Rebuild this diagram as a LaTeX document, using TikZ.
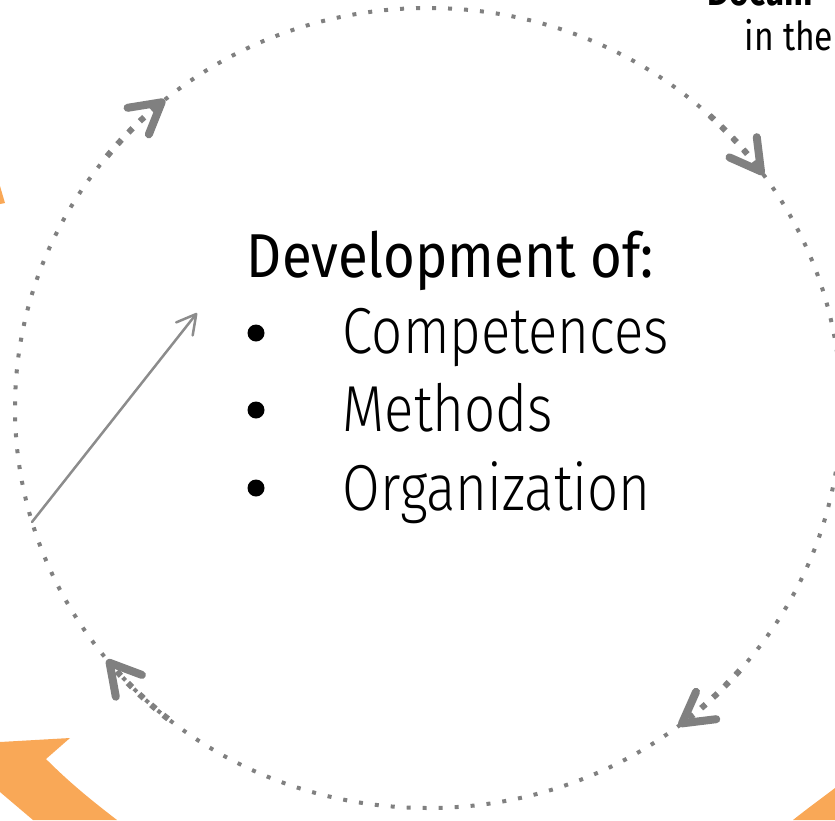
\documentclass[tikz,border=0pt]{standalone}
\usepackage{fontspec}
\setmainfont[FakeStretch=0.84]{Fira Sans}
\newfontfamily\thinfont[FakeStretch=0.84]{Fira Sans Light}
\newfontfamily\headfont[FakeStretch=0.88]{Fira Sans}
\usetikzlibrary{arrows.meta}

\definecolor{dotgray}{RGB}{128,128,128}
\definecolor{arrgray}{RGB}{140,140,140}
\definecolor{orng}{RGB}{249,168,87}

\tikzset{
  circdots/.style={dotgray, line width=4pt, dash pattern=on 4pt off 12pt},
  arrowarc/.style={dotgray, line width=6pt, dash pattern=on 6pt off 10pt,
    -{Straight Barb[length=30pt,width=34pt,line width=8pt,round]}},
  pointer/.style={arrgray, line width=2.5pt, line cap=round,
    -{Straight Barb[length=19pt,width=21pt,round]}},
  heading/.style={anchor=base west, inner sep=0.75pt, font=\headfont\fontsize{62}{70}\selectfont},
  itemtext/.style={anchor=base west, inner sep=0.75pt, font=\thinfont\fontsize{65}{72}\selectfont},
  listdot/.style={circle, fill=black, inner sep=0pt, minimum size=17pt}
}

\begin{document}
\begin{tikzpicture}[x=1pt,y=1pt,yscale=-1,xscale=1]
		% Set diagram from (0,0) to (835,820)
		\useasboundingbox (0,0) rectangle (835,820);
		\clip (0,0) rectangle (835,820);

		% Draw the orange pieces of the outer cycle
		\fill[orng] (0,742) -- (70,738) -- (46,759) .. controls (72,785) and (95,803) .. (117,820) -- (33,820) -- (0,792) -- cycle;
		\fill[orng] (0,186) -- (5,203) -- (0,204) -- cycle;
		\fill[orng] (793,820) .. controls (808,808) and (822,798) .. (835,788) -- (835,820) -- cycle;

		% Draw the dotted cycle
		\coordinate (hub) at (428,408);
		\draw[circdots] (hub) ellipse [x radius=413, y radius=400];

		% Draw the four arrows on the cycle (clockwise)
		\draw[arrowarc] ([shift={(-141:413 and 400)}]hub) arc[start angle=-141, end angle=-129.6, x radius=413, y radius=400];
		\draw[arrowarc] ([shift={(-47:413 and 400)}]hub) arc[start angle=-47, end angle=-35.7, x radius=413, y radius=400];
		\draw[arrowarc] ([shift={(41:413 and 400)}]hub) arc[start angle=41, end angle=52.6, x radius=413, y radius=400];
		\draw[arrowarc] ([shift={(129:413 and 400)}]hub) arc[start angle=129, end angle=141, x radius=413, y radius=400];

		% The straight grey arrow from the cycle to the text
		\coordinate (foot) at (32,522);
		\coordinate (head) at (197,313);
		\draw[pointer] (foot) -- (head);

		% The heading and the list
		\node[heading] (devel) at (246,277) {Development of:};
		\node[listdot] (b1) at (256,333) {};
		\node[listdot] (b2) at (256,410) {};
		\node[listdot] (b3) at (256,488) {};
		\node[itemtext] (compet) at (342,353) {Competences};
		\node[itemtext] (method) at (342,431) {Methods};
		\node[itemtext] (organ) at (342,510) {Organization};

		% The cut text at the top right
		\node[anchor=base west, inner sep=0.75pt, font=\bfseries\fontsize{40}{44}\selectfont] (docum) at (707,5) {Docum};
		\node[anchor=base west, inner sep=0.75pt, font=\fontsize{40}{44}\selectfont] (inthe) at (744,50) {in the};
	\end{tikzpicture}
\end{document}
